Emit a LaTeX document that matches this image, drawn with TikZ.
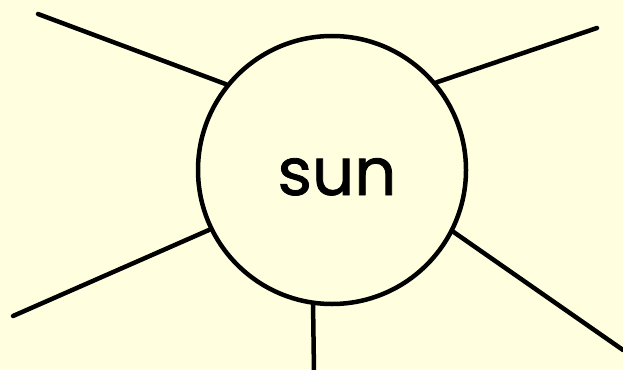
\documentclass[tikz,border=0pt]{standalone}
\usepackage{fontspec}
\newfontfamily\sunfont[FakeBold=1.2]{Poppins}
\definecolor{bg}{RGB}{255,255,224}
\tikzset{ray/.style={line width=4.5pt,line cap=round},
  sunc/.style={circle,draw,line width=4.5pt,minimum size=268pt,inner sep=0pt}}
\begin{document}
\begin{tikzpicture}[x=1pt,y=-1pt]
\fill[bg] (0,0) rectangle (623,369);
\useasboundingbox (0,0) rectangle (623,369);
\node[sunc] (sun) at (332,170) {};
\node[font=\sunfont\fontsize{66}{74}\selectfont,inner sep=0pt,anchor=base] (lbl) at (337,195) {sun};
\coordinate (e1) at (38,14);
\coordinate (e2) at (597,28);
\coordinate (e3) at (13,316);
\coordinate (e4) at (623,350);
\coordinate (e5) at (314,372);
\draw[ray] (sun.141.7) -- (e1);
\draw[ray] (sun.40.3) -- (e2);
\draw[ray] (sun.206.4) -- (e3);
\draw[ray] (sun.333.4) -- (e4);
\draw[ray] (sun.262.4) -- (e5);
\end{tikzpicture}
\end{document}
